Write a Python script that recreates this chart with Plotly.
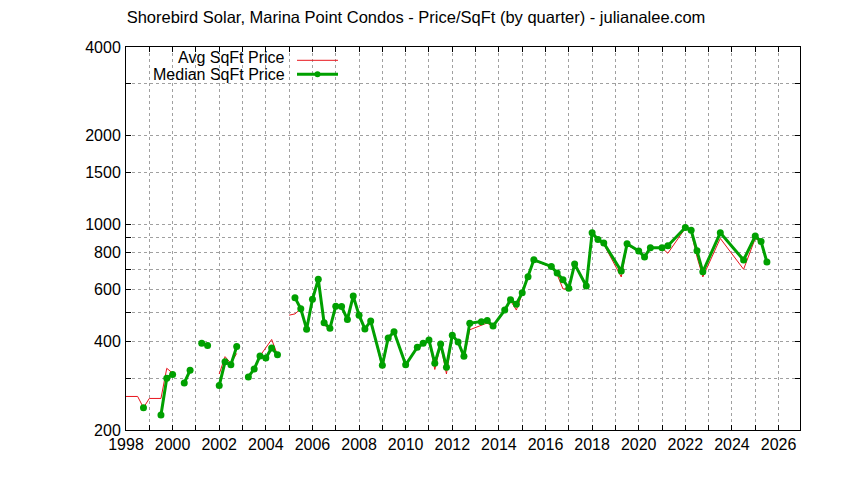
import plotly.graph_objects as go

# ---- data (decimal year of quarter, $/sqft); None = break in line ----
median_x = [1998.75, None, 1999.5, 1999.75, 2000.0, None, 2000.5, 2000.75, None,
            2001.25, 2001.5, None, 2002.0, 2002.25, 2002.5, 2002.75, None,
            2003.25, 2003.5, 2003.75, 2004.0, 2004.25, 2004.5, None,
            2005.25, 2005.5, 2005.75, 2006.0, 2006.25, 2006.5, 2006.75, 2007.0,
            2007.25, 2007.5, 2007.75, 2008.0, 2008.25, 2008.5, 2009.0, 2009.25,
            2009.5, 2010.0, 2010.5, 2010.75, 2011.0, 2011.25, 2011.5, 2011.75,
            2012.0, 2012.25, 2012.5, 2012.75, 2013.25, 2013.5, 2013.75, 2014.25,
            2014.5, 2014.75, 2015.0, 2015.25, 2015.5, 2016.25, 2016.5, 2016.75,
            2017.0, 2017.25, 2017.75, 2018.0, 2018.25, 2018.5, 2019.25, 2019.5,
            2020.0, 2020.25, 2020.5, 2021.0, 2021.25, 2022.0, 2022.25, 2022.5,
            2022.75, 2023.5, 2024.5, 2025.0, 2025.25, 2025.5]
median_price = [238, None, 225, 300, 309, None, 289, 319, None,
                394, 387, None, 283, 341, 333, 384, None,
                303, 322, 357, 351, 380, 360, None,
                563, 516, 440, 556, 650, 463, 443, 527,
                525, 475, 570, 491, 441, 469, 332, 411,
                431, 333, 382, 394, 404, 337, 392, 327,
                420, 398, 356, 461, 466, 471, 451, 511,
                554, 535, 585, 663, 757, 719, 683, 648,
                606, 732, 617, 935, 887, 863, 693, 858,
                811, 774, 832, 832, 845, 975, 954, 812,
                689, 935, 756, 912, 873, 744]

avg_x = [1998.0, 1998.5, 1998.75, 1999.0, 1999.5, 1999.75, 2000.0, None,
         2000.5, 2000.75, None, 2001.25, 2001.5, None,
         2002.0, 2002.25, 2002.5, 2002.75, None,
         2003.25, 2003.5, 2003.75, 2004.0, 2004.25, 2004.5, None,
         2005.0, 2005.25, 2005.5, 2005.75, 2006.0, 2006.25, 2006.5, 2006.75,
         2007.0, 2007.25, 2007.5, 2007.75, 2008.0, 2008.25, 2008.5, 2009.0,
         2009.25, 2009.5, 2010.0, 2010.5, 2010.75, 2011.0, 2011.25, 2011.5,
         2011.75, 2012.0, 2012.25, 2012.5, 2012.75, 2013.25, 2013.5, 2013.75,
         2014.25, 2014.5, 2014.75, 2015.0, 2015.25, 2015.5, 2016.25, 2016.5,
         2016.75, 2017.0, 2017.25, 2017.75, 2018.0, 2018.25, 2018.5, 2019.25,
         2019.5, 2020.0, 2020.25, 2020.5, 2021.0, 2021.25, 2022.0, 2022.25,
         2022.5, 2022.75, 2023.5, 2024.5, 2025.0, 2025.25, 2025.5]
avg_price = [260, 260, 238, 256, 256, 324, 312, None,
             289, 319, None, 394, 387, None,
             310, 355, 337, 364, None,
             303, 322, 357, 379, 406, 360, None,
             491, 496, 516, 438, 552, 645, 455, 440,
             522, 525, 475, 565, 491, 441, 469, 324,
             405, 431, 333, 378, 392, 404, 321, 390,
             310, 415, 396, 350, 438, 455, 462, 447,
             511, 550, 511, 580, 655, 752, 715, 675,
             603, 603, 732, 612, 930, 880, 855, 662,
             850, 808, 772, 830, 830, 797, 970, 940,
             775, 662, 895, 703, 895, 870, 750]

year_ticks = list(range(1998, 2027))
year_labels = [str(y) if y % 2 == 0 else "" for y in year_ticks]
price_ticks = [200, 300, 400, 500, 600, 700, 800, 900, 1000, 1500, 2000, 3000, 4000]
price_labels = ["200", "", "400", "", "600", "", "800", "", "1000", "1500", "2000", "", "4000"]

title_text = "Shorebird Solar, Marina Point Condos - Price/SqFt (by quarter) - julianalee.com"
avg_name = "Avg SqFt Price"
median_name = "Median SqFt Price"

RED = "#e8141c"
GREEN = "#00a000"
FONT = "Liberation Sans, Arial, sans-serif"
FS = 16

# page has an 8px body margin: figure origin sits at page (8, 8)
OFF = 8
W, H = 844 - OFF, 480 - OFF
# Plot area in page pixels: x 126..800, y 47..430
L, R, T, B = 126, 800, 47, 430
def px(x):
    return (x - L) / (R - L)
def py(y):
    return (B - y) / (B - T)

fig = go.Figure()
fig.add_trace(go.Scatter(x=avg_x, y=avg_price, mode="lines", name=avg_name,
                         line=dict(color=RED, width=1), connectgaps=False,
                         showlegend=False))
fig.add_trace(go.Scatter(x=median_x, y=median_price, mode="lines+markers", name=median_name,
                         line=dict(color=GREEN, width=3), connectgaps=False,
                         marker=dict(symbol="circle", size=7, color=GREEN),
                         showlegend=False))

# custom gnuplot-style legend (text left of sample)
fig.add_annotation(x=px(287), y=py(57.5), xref="paper", yref="paper", text=avg_name,
                   showarrow=False, xanchor="right", yanchor="middle",
                   font=dict(size=FS, color="black", family=FONT))
fig.add_annotation(x=px(287), y=py(74), xref="paper", yref="paper", text=median_name,
                   showarrow=False, xanchor="right", yanchor="middle",
                   font=dict(size=FS, color="black", family=FONT))
fig.add_shape(type="line", xref="paper", yref="paper", x0=px(297), x1=px(338),
              y0=py(60.3), y1=py(60.3), line=dict(color=RED, width=1))
fig.add_shape(type="line", xref="paper", yref="paper", x0=px(297), x1=px(338),
              y0=py(74.3), y1=py(74.3), line=dict(color=GREEN, width=3))
fig.add_shape(type="circle", xref="paper", yref="paper", xsizemode="pixel", ysizemode="pixel",
              xanchor=px(317.5), yanchor=py(74.3), x0=-3, x1=3, y0=-3, y1=3,
              fillcolor=GREEN, line=dict(color=GREEN, width=0))

axis_common = dict(showline=True, linecolor="black", linewidth=1, mirror="allticks",
                   ticks="inside", ticklen=5, tickcolor="black", tickwidth=1,
                   showgrid=True, gridcolor="#a0a0a0", gridwidth=1, griddash="3px,3px",
                   zeroline=False, tickfont=dict(size=FS, color="black", family=FONT))

fig.update_xaxes(range=[1998, 2026.92], tickmode="array", tickvals=year_ticks,
                 ticktext=year_labels, ticklabelstandoff=0, **axis_common)
fig.update_yaxes(type="log", range=[2.30103, 3.60206], tickmode="array",
                 tickvals=price_ticks, ticktext=price_labels, ticklabelstandoff=1,
                 **axis_common)

fig.update_layout(
    width=W, height=H,
    margin=dict(l=L - OFF, r=844 - R, t=T - OFF, b=480 - B, autoexpand=False),
    paper_bgcolor="white", plot_bgcolor="white",
    font=dict(family=FONT, size=FS, color="black"),
    title=dict(text=title_text, xref="container", yref="container",
               x=(416 - OFF) / W, y=1 - 3 / H, xanchor="center", yanchor="top",
               pad=dict(t=0, b=0, l=0, r=0),
               font=dict(size=16.5, color="black", family=FONT)),
)

fig.write_html("out.html")
